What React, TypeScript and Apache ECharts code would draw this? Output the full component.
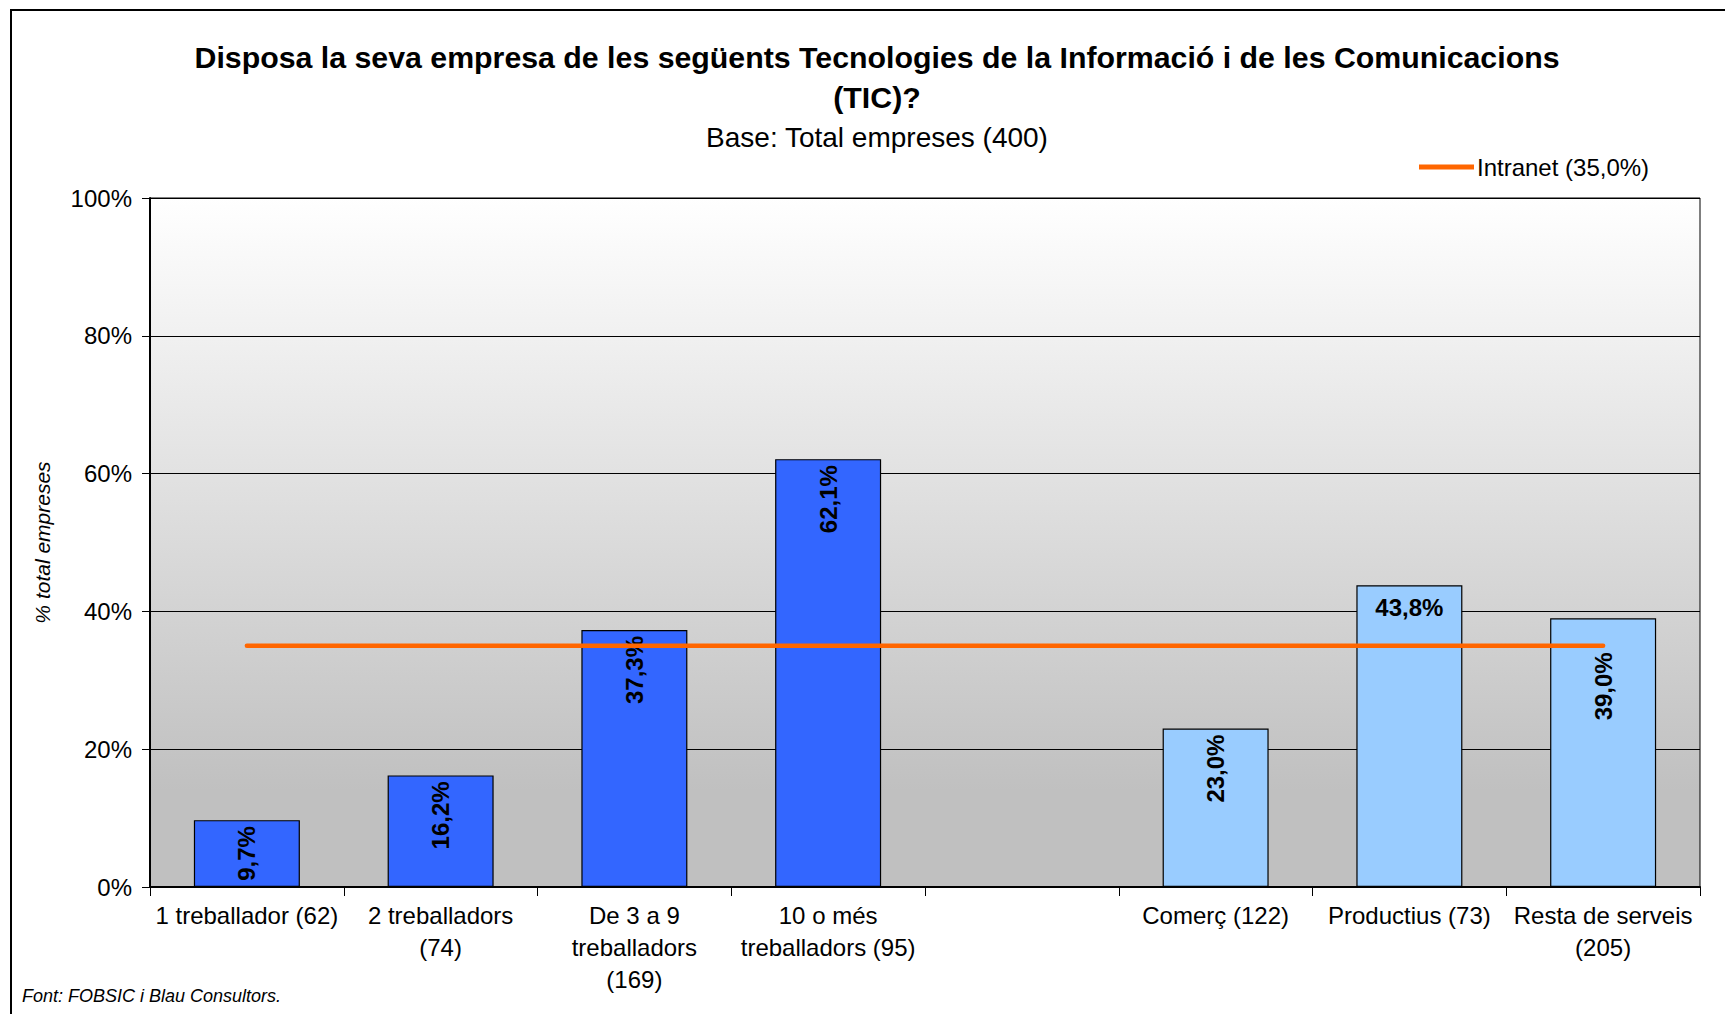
import React, { useEffect, useRef } from "react";
import * as echarts from "echarts";

const titleLine1 = "Disposa la seva empresa de les següents Tecnologies de la Informació i de les Comunicacions";
const titleLine2 = "(TIC)?";
const subtitle = "Base: Total empreses (400)";
const footer = "Font: FOBSIC i Blau Consultors.";
const yAxisName = "% total empreses";

const categories = [
  "1 treballador (62)",
  "2 treballadors\n(74)",
  "De 3 a 9\ntreballadors\n(169)",
  "10 o més\ntreballadors (95)",
  "",
  "Comerç (122)",
  "Productius (73)",
  "Resta de serveis\n(205)",
];
const values: (number | null)[] = [9.7, 16.2, 37.3, 62.1, null, 23.0, 43.8, 39.0];
const groups = ["size", "size", "size", "size", "", "sector", "sector", "sector"];
const intranetName = "Intranet (35,0%)";
const intranetValues = [35, 35, 35, 35, 35, 35, 35, 35];

const FONT = "Arial, 'Liberation Sans', sans-serif";
const groupColor: Record<string, string> = { size: "#3366FF", sector: "#99CCFF" };

const fmt = (v: number) => v.toFixed(1).replace(".", ",") + "%";

export default function App() {
  const ref = useRef<HTMLDivElement>(null);
  useEffect(() => {
    if (!ref.current) return;
    const chart = echarts.init(ref.current, null, { renderer: "svg" });

    const barData = values.map((v, i) => {
      if (v === null) return "-";
      const horizontal = i === 6;
      const dist = i === 7 ? 34 : horizontal ? 10 : 6;
      return {
        value: v,
        itemStyle: { color: groupColor[groups[i]] },
        label: horizontal
          ? { rotate: 0, align: "center", verticalAlign: "top", distance: dist }
          : { rotate: 90, align: "right", verticalAlign: "middle", distance: dist },
      };
    });

    chart.setOption({
      animation: false,
      backgroundColor: "#ffffff",
      textStyle: { fontFamily: FONT },
      grid: {
        left: 150,
        right: 25,
        top: 198,
        bottom: 127,
        show: true,
        borderColor: "#000",
        borderWidth: 1,
        backgroundColor: new echarts.graphic.LinearGradient(0, 0, 0, 1, [
          { offset: 0, color: "#FFFFFF" },
          { offset: 0.86, color: "#C0C0C0" },
          { offset: 1, color: "#C0C0C0" },
        ]),
        containLabel: false,
        outerBoundsMode: "none",
      },
      legend: {
        show: true,
        left: 1419,
        top: 155,
        padding: 0,
        icon: "rect",
        itemWidth: 55,
        itemHeight: 5,
        itemGap: 4,
        data: [intranetName],
        textStyle: { fontFamily: FONT, fontSize: 24, color: "#000", padding: [0, 0, 0, -2] },
      },
      xAxis: {
        type: "category",
        data: categories,
        axisLine: { lineStyle: { color: "#000", width: 2 } },
        axisTick: { show: true, length: 9, lineStyle: { color: "#000", width: 1 } },
        axisLabel: {
          interval: 0,
          color: "#000",
          fontFamily: FONT,
          fontSize: 24,
          lineHeight: 32,
          margin: 12,
        },
        splitLine: { show: false },
      },
      yAxis: {
        type: "value",
        min: 0,
        max: 100,
        interval: 20,
        name: yAxisName,
        nameLocation: "middle",
        nameRotate: 90,
        nameGap: 97,
        nameTextStyle: { fontFamily: FONT, fontSize: 21, fontStyle: "italic", color: "#000" },
        axisLine: { show: true, lineStyle: { color: "#000", width: 2 } },
        axisTick: { show: true, length: 8, lineStyle: { color: "#000", width: 1 } },
        axisLabel: {
          color: "#000",
          fontFamily: FONT,
          fontSize: 24,
          margin: 18,
          formatter: (v: number) => v + "%",
        },
        splitLine: { show: true, lineStyle: { color: "#000", width: 1 } },
      },
      series: [
        {
          type: "bar",
          name: "TIC",
          data: barData,
          barWidth: 106,
          itemStyle: { borderColor: "#000", borderWidth: 1.2 },
          label: {
            show: true,
            position: "insideTop",
            color: "#000",
            fontFamily: FONT,
            fontWeight: "bold",
            fontSize: 24,
            formatter: (p: any) => fmt(p.value),
          },
          z: 2,
        },
        {
          type: "line",
          name: intranetName,
          data: intranetValues,
          showSymbol: false,
          symbol: "none",
          color: "#FF6600",
          lineStyle: { color: "#FF6600", width: 4.5, cap: "round" },
          z: 3,
        },
      ],
      graphic: [
        {
          type: "rect",
          shape: { x: 11, y: 10, width: 1800, height: 1100 },
          style: { fill: "none", stroke: "#000", lineWidth: 2 },
          silent: true,
        },
        {
          type: "text",
          x: 877,
          y: 57,
          style: {
            text: titleLine1,
            fill: "#000",
            fontFamily: FONT,
            fontSize: 30.3,
            fontWeight: "bold",
            textAlign: "center",
            textVerticalAlign: "middle",
          },
        },
        {
          type: "text",
          x: 877,
          y: 97,
          style: {
            text: titleLine2,
            fill: "#000",
            fontFamily: FONT,
            fontSize: 30.3,
            fontWeight: "bold",
            textAlign: "center",
            textVerticalAlign: "middle",
          },
        },
        {
          type: "text",
          x: 877,
          y: 137,
          style: {
            text: subtitle,
            fill: "#000",
            fontFamily: FONT,
            fontSize: 28,
            textAlign: "center",
            textVerticalAlign: "middle",
          },
        },
        {
          type: "text",
          x: 22,
          y: 996,
          style: {
            text: footer,
            fill: "#000",
            fontFamily: FONT,
            fontSize: 18,
            fontStyle: "italic",
            textAlign: "left",
            textVerticalAlign: "middle",
          },
        },
      ],
    });
    return () => chart.dispose();
  }, []);
  return (
    <div
      ref={ref}
      style={{ position: "fixed", left: 0, top: 0, width: 1725, height: 1014 }}
    />
  );
}
